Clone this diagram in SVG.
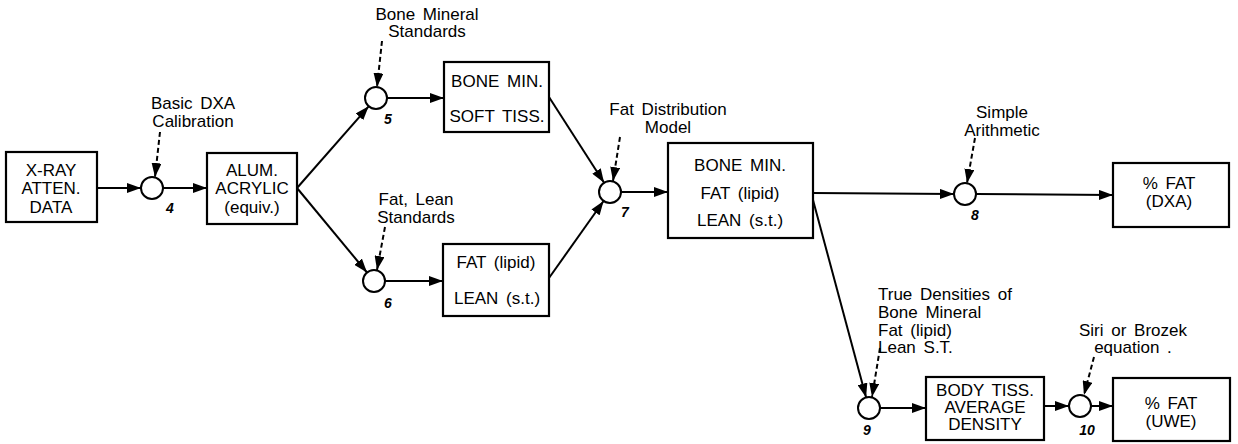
<svg xmlns="http://www.w3.org/2000/svg" width="1238" height="444" viewBox="0 0 1238 444">
<style>
.box{fill:#fff;stroke:#000;stroke-width:2.2}
.jn{fill:#fff;stroke:#000;stroke-width:2}
.t{font-family:"Liberation Sans",Arial,sans-serif;font-size:17px;fill:#000;text-anchor:middle;word-spacing:3px}
.a{font-family:"Liberation Sans",Arial,sans-serif;font-size:17px;fill:#000;text-anchor:middle;word-spacing:3px}
.al{text-anchor:start}
.n{font-family:"Liberation Sans",Arial,sans-serif;font-size:14px;font-weight:bold;font-style:italic;fill:#000;text-anchor:middle}
.c{fill:none;stroke:#000;stroke-width:2;marker-end:url(#ah)}
.d{fill:none;stroke:#000;stroke-width:2;stroke-dasharray:5 3;marker-end:url(#ah)}
</style>
<defs>
<marker id="ah" viewBox="0 0 14 10" refX="14" refY="5" markerWidth="14" markerHeight="10" markerUnits="userSpaceOnUse" orient="auto">
<path d="M0,0 L14,5 L0,10 z" fill="#000"/>
</marker>
</defs>
<rect width="1238" height="444" fill="#fff"/>
<g id="connectors">
<line class="c" x1="97" y1="188" x2="141" y2="188"/>
<line class="c" x1="163" y1="188" x2="207" y2="188"/>
<line class="d" x1="160" y1="132" x2="155" y2="177"/>
<line class="c" x1="297" y1="188" x2="368.7" y2="106.3"/>
<line class="c" x1="387" y1="98" x2="444" y2="98"/>
<line class="d" x1="382" y1="41" x2="377" y2="87"/>
<line class="c" x1="297" y1="188" x2="367" y2="272.5"/>
<line class="c" x1="385" y1="281" x2="443" y2="281"/>
<line class="d" x1="385" y1="227" x2="377" y2="270"/>
<line class="c" x1="549" y1="97" x2="604.1" y2="182.7"/>
<line class="c" x1="549" y1="278" x2="603.6" y2="201"/>
<line class="d" x1="620" y1="137" x2="613" y2="181"/>
<line class="c" x1="621" y1="192" x2="668" y2="192"/>
<line class="c" x1="813" y1="193" x2="954" y2="194"/>
<line class="d" x1="975" y1="138" x2="967" y2="183"/>
<line class="c" x1="976" y1="194" x2="1113" y2="195"/>
<line class="c" x1="813" y1="200" x2="866.1" y2="397.4"/>
<line class="d" x1="880" y1="348" x2="872" y2="397"/>
<line class="c" x1="880" y1="408" x2="926" y2="408"/>
<line class="c" x1="1044" y1="406" x2="1069" y2="406"/>
<line class="d" x1="1094" y1="357" x2="1084" y2="395"/>
<line class="c" x1="1091" y1="406" x2="1113" y2="406"/>
</g>
<g id="xray">
<rect class="box" x="6" y="152" width="91" height="70"/>
<text class="t" x="51" y="176">X-RAY</text>
<text class="t" x="51" y="194">ATTEN.</text>
<text class="t" x="51" y="213">DATA</text>
</g>
<g id="j4">
<circle class="jn" cx="152" cy="188" r="11"/>
<text class="n" x="170" y="213">4</text>
<text class="a" x="193" y="109">Basic DXA</text>
<text class="a" x="193" y="127">Calibration</text>
</g>
<g id="alum">
<rect class="box" x="207" y="153" width="90" height="71"/>
<text class="t" x="252" y="176">ALUM.</text>
<text class="t" x="252" y="194">ACRYLIC</text>
<text class="t" x="252" y="213">(equiv.)</text>
</g>
<g id="j5">
<circle class="jn" cx="376" cy="98" r="11"/>
<text class="n" x="388" y="124">5</text>
<text class="a" x="427" y="20">Bone Mineral</text>
<text class="a" x="427" y="37">Standards</text>
</g>
<g id="bonesoft">
<rect class="box" x="444" y="62" width="105" height="70"/>
<text class="t" x="497" y="87">BONE MIN.</text>
<text class="t" x="497" y="122">SOFT TISS.</text>
</g>
<g id="j6">
<circle class="jn" cx="374" cy="281" r="11"/>
<text class="n" x="388" y="308">6</text>
<text class="a" x="416" y="205">Fat, Lean</text>
<text class="a" x="416" y="223">Standards</text>
</g>
<g id="fatlean">
<rect class="box" x="443" y="244" width="106" height="72"/>
<text class="t" x="496" y="268">FAT (lipid)</text>
<text class="t" x="497" y="304">LEAN (s.t.)</text>
</g>
<g id="j7">
<circle class="jn" cx="610" cy="192" r="11"/>
<text class="n" x="625" y="217">7</text>
<text class="a" x="668" y="115">Fat Distribution</text>
<text class="a" x="668" y="133">Model</text>
</g>
<g id="threecomp">
<rect class="box" x="668" y="143" width="145" height="95"/>
<text class="t" x="740" y="171">BONE MIN.</text>
<text class="t" x="740" y="199">FAT (lipid)</text>
<text class="t" x="740" y="226">LEAN (s.t.)</text>
</g>
<g id="j8">
<circle class="jn" cx="965" cy="194" r="11"/>
<text class="n" x="975" y="220">8</text>
<text class="a" x="1002" y="118">Simple</text>
<text class="a" x="1002" y="136">Arithmetic</text>
</g>
<g id="fatdxa">
<rect class="box" x="1113" y="163" width="116" height="64"/>
<text class="t" x="1169" y="189">% FAT</text>
<text class="t" x="1169" y="207">(DXA)</text>
</g>
<g id="j9">
<circle class="jn" cx="869" cy="408" r="11"/>
<text class="n" x="867" y="435">9</text>
<text class="a al" x="878" y="300">True Densities of</text>
<text class="a al" x="878" y="318">Bone Mineral</text>
<text class="a al" x="878" y="336">Fat  (lipid)</text>
<text class="a al" x="878" y="353">Lean S.T.</text>
</g>
<g id="bodytiss">
<rect class="box" x="926" y="377" width="118" height="63"/>
<text class="t" x="985" y="396">BODY TISS.</text>
<text class="t" x="985" y="413">AVERAGE</text>
<text class="t" x="985" y="430">DENSITY</text>
</g>
<g id="j10">
<circle class="jn" cx="1080" cy="406" r="11"/>
<text class="n" x="1087" y="435">10</text>
<text class="a" x="1133" y="336">Siri or Brozek</text>
<text class="a" x="1133" y="353">equation .</text>
</g>
<g id="fatuwe">
<rect class="box" x="1113" y="378" width="117" height="63"/>
<text class="t" x="1171" y="409">% FAT</text>
<text class="t" x="1171" y="427">(UWE)</text>
</g>
</svg>
